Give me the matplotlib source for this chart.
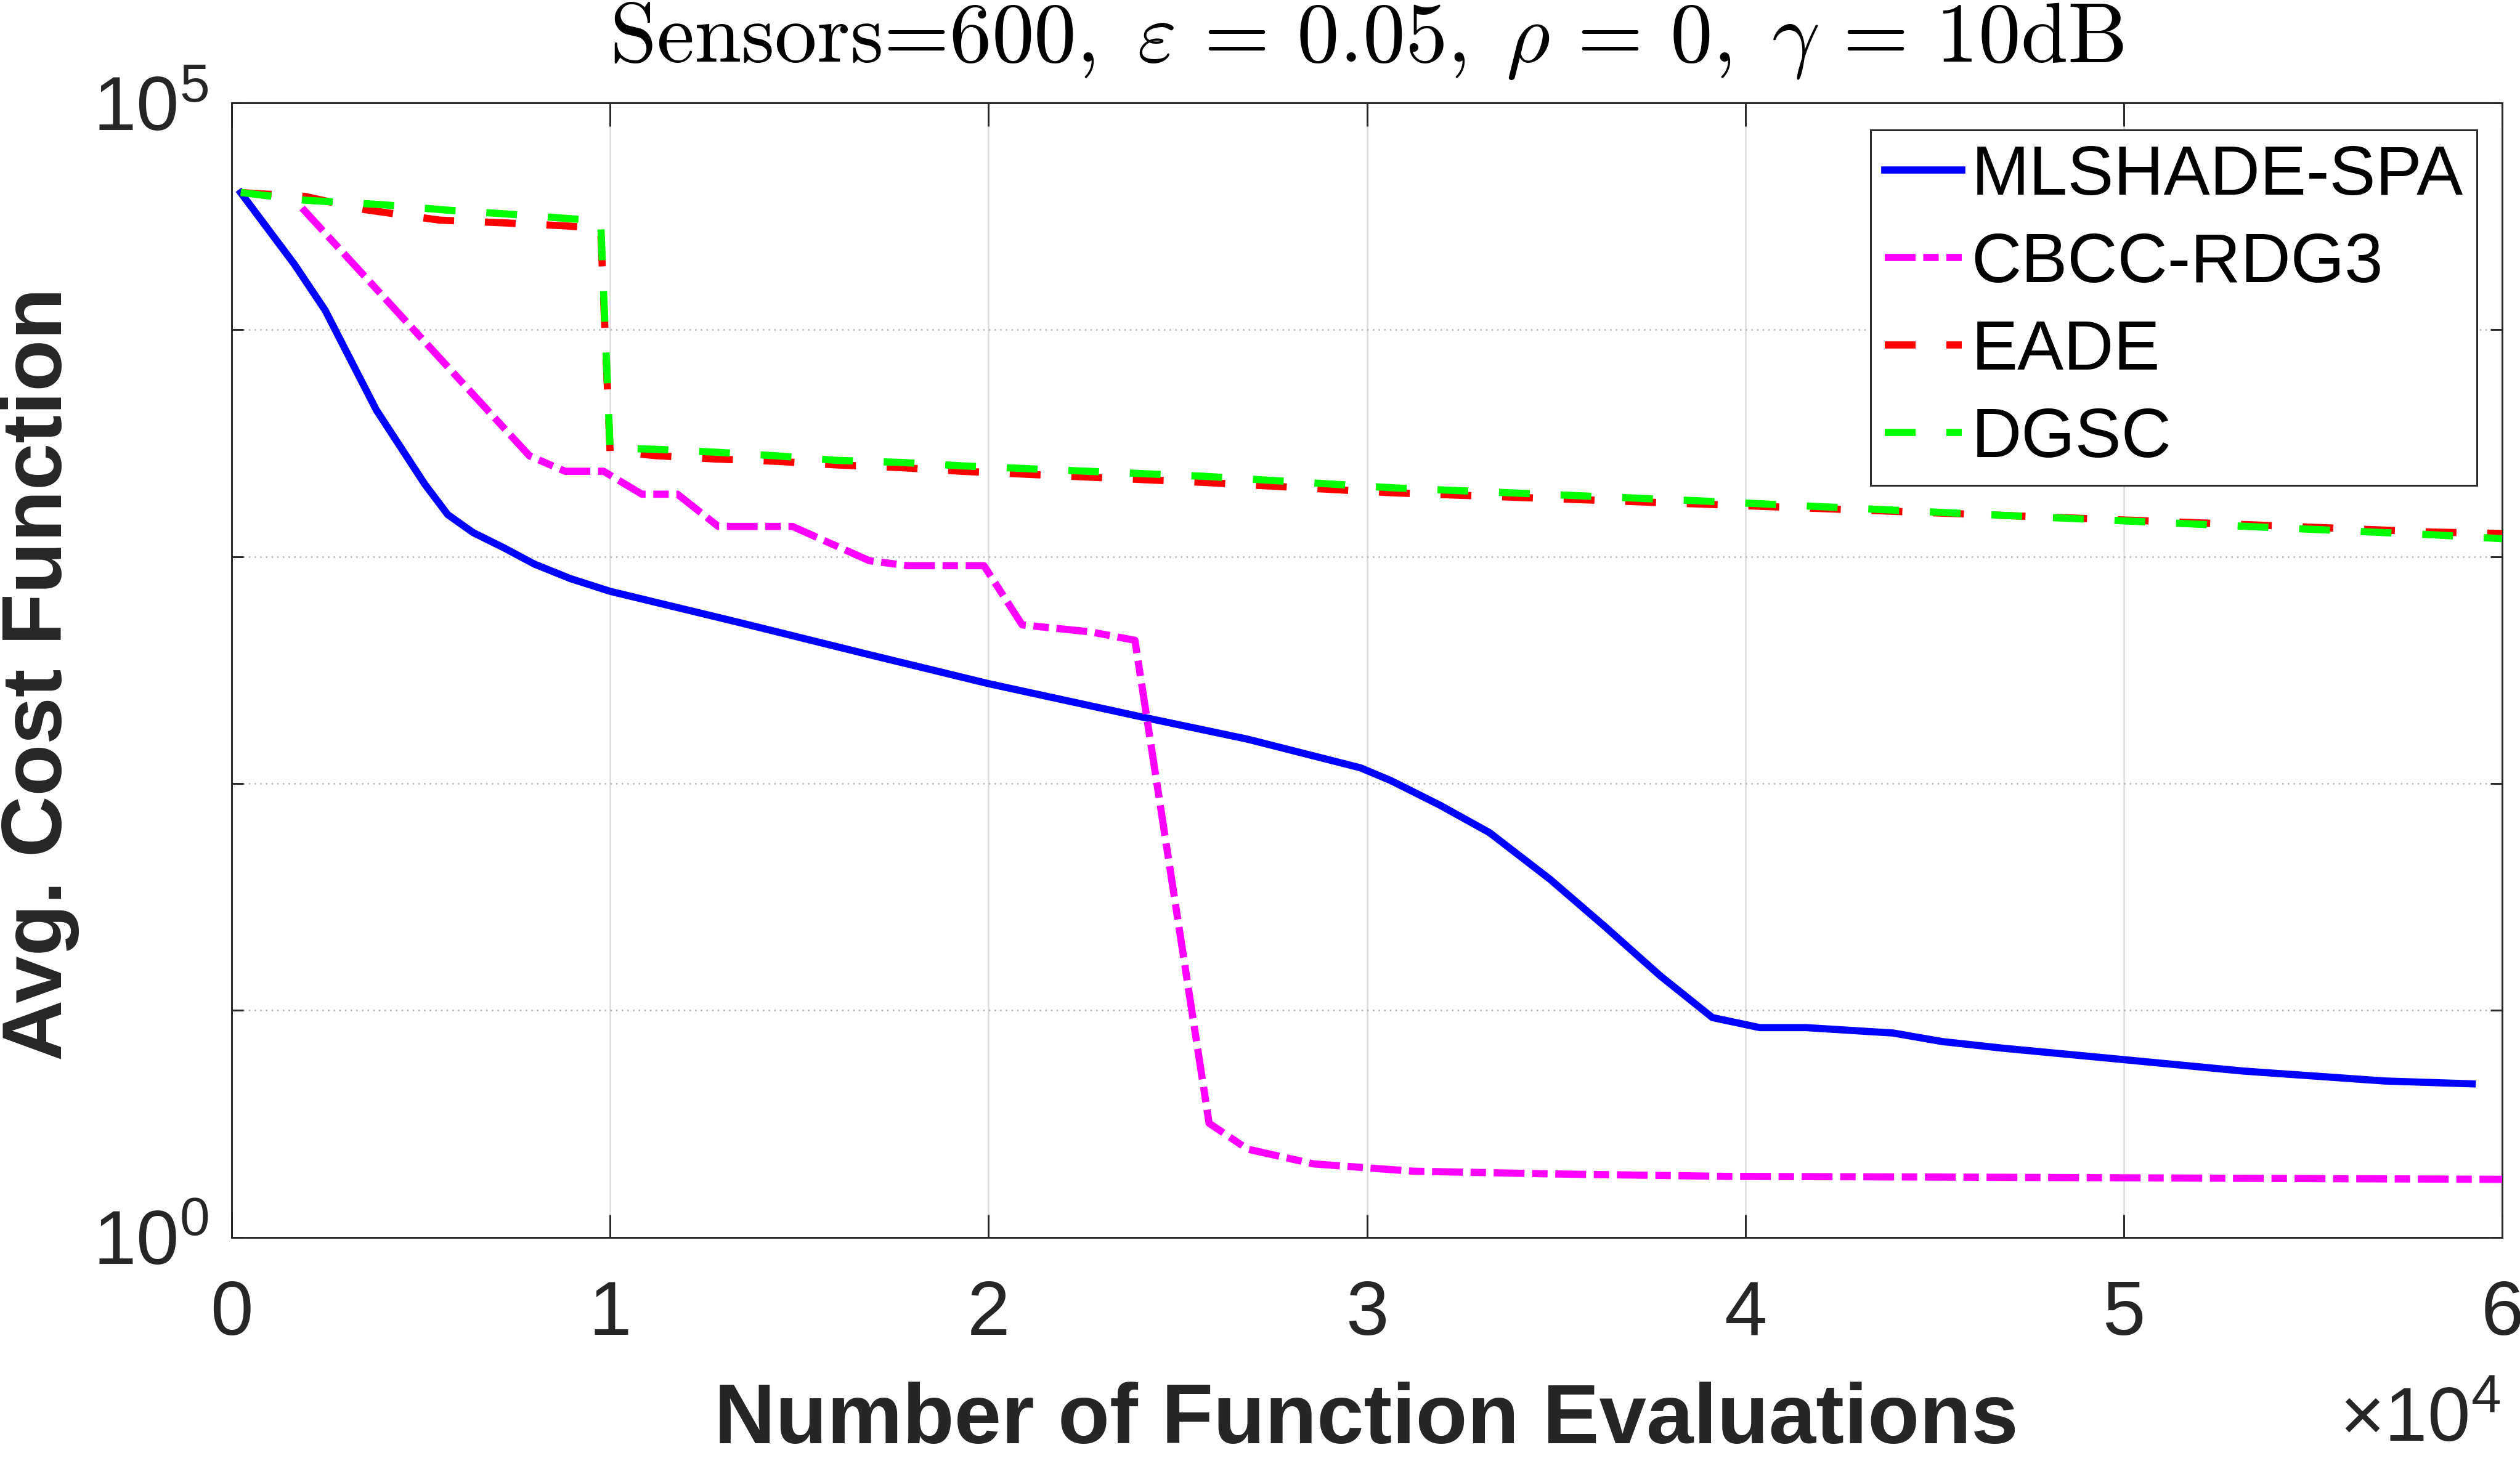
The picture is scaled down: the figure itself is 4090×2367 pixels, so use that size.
import matplotlib
matplotlib.use("Agg")
import matplotlib.pyplot as plt
from matplotlib.ticker import NullLocator

# ---------------- data (x in function evaluations, y = avg cost) ----------------
mlshade_x = [240, 1660, 2470, 3820, 5100, 5710, 6380, 7190, 8000, 8950, 10000,
             13400, 16670, 20000, 23940, 26850, 29830, 30630, 31930, 33240, 34840,
             36290, 37750, 39130, 40380, 41600, 43910, 45210, 46800, 49830, 53150,
             56900, 59210]
mlshade_y = [40200, 19400, 12190, 4436, 2089, 1531, 1276, 1094, 926.8, 799.8, 703.1,
             512.9, 375.8, 275.4, 198.2, 156.7, 117.2, 103.0, 80.2, 60.7, 37.8,
             23.4, 14.2, 9.29, 8.39, 8.39, 7.94, 7.28, 6.81, 6.10, 5.40,
             4.88, 4.74]

cbcc_x = [1860, 7870, 8810, 9830, 10840, 11780, 12860, 14820, 16850, 17860, 19880,
          20890, 22700, 23870, 25830, 26850, 28590, 31210, 34840, 39460, 45070,
          52280, 60000]
cbcc_y = [34400, 2780, 2377, 2377, 1884, 1884, 1358, 1358, 959.4, 912.0, 912.0,
          500.0, 465.6, 427.6, 3.177, 2.443, 2.104, 1.954, 1.901, 1.854, 1.841,
          1.820, 1.799]

eade_x = [240, 1930, 3500, 5500, 7200, 8800, 9750, 10000, 11200, 12800, 14400,
          16000, 17700, 19300, 25700, 30700, 38750, 46900, 53400, 58200, 60000]
eade_y = [40200, 38730, 33880, 30410, 29580, 28710, 27990, 2917, 2786, 2692, 2630,
          2535, 2466, 2377, 2123, 1910, 1706, 1517, 1380, 1282, 1265]

dgsc_x = [240, 1930, 4000, 5700, 7300, 8900, 9750, 10000, 11200, 12800, 14400,
          16000, 17700, 19300, 25700, 30700, 38750, 46900, 53400, 58200, 60000]
dgsc_y = [40270, 37240, 35560, 33650, 32360, 30900, 30200, 3006, 2972, 2884, 2780,
          2655, 2600, 2512, 2259, 2009, 1762, 1517, 1355, 1247, 1199]

series_labels = ["MLSHADE-SPA", "CBCC-RDG3", "EADE", "DGSC"]
x_tick_values = [0, 10000, 20000, 30000, 40000, 50000, 60000]
x_tick_labels = ["0", "1", "2", "3", "4", "5", "6"]
y_tick_values = [1, 10, 100, 1000, 10000, 100000]
y_tick_labels = [r"$\mathdefault{10^{0}}$", "", "", "", "", r"$\mathdefault{10^{5}}$"]

# ---------------- style ----------------
plt.rcParams["font.family"] = ["Liberation Sans", "DejaVu Sans"]
plt.rcParams["lines.scale_dashes"] = False
AX_COL = "#262626"

W, H = 4090, 2367
fig = plt.figure(figsize=(W / 300, H / 300), dpi=300)
ax = fig.add_axes([376 / W, (H - 2008.5) / H, 3685 / W, 1841.5 / H])

lw = 2.8
ax.plot(mlshade_x, mlshade_y, color=(0, 0, 1), lw=lw, ls="-", label=series_labels[0], zorder=3)
ax.plot(cbcc_x, cbcc_y, color=(1, 0, 1), lw=lw, ls=(0, (12, 3, 6, 3)), label=series_labels[1], zorder=3)
ax.plot(eade_x, eade_y, color=(1, 0, 0), lw=lw, ls=(0, (12, 12)), label=series_labels[2], zorder=3)
ax.plot(dgsc_x, dgsc_y, color=(0, 1, 0), lw=lw, ls=(0, (12, 12)), label=series_labels[3], zorder=3)

ax.set_yscale("log")
ax.set_xlim(0, 60000)
ax.set_ylim(1, 1e5)
ax.set_xticks(x_tick_values)
ax.set_xticklabels(x_tick_labels)
ax.set_yticks(y_tick_values)
ax.set_yticklabels(y_tick_labels)
ax.yaxis.set_minor_locator(NullLocator())
ax.xaxis.set_minor_locator(NullLocator())

ax.grid(True, axis="x", color="#dcdcdc", lw=0.6, ls="-", zorder=0)
ax.grid(True, axis="y", color="#b4b4b4", lw=0.6, ls=(0, (0.6, 1.6)), zorder=0)
ax.set_axisbelow(True)

for s in ax.spines.values():
    s.set_color(AX_COL)
    s.set_linewidth(0.7)

ax.tick_params(axis="both", direction="in", colors=AX_COL, width=0.7,
               labelsize=30, top=True, right=True)
ax.tick_params(axis="x", length=9, pad=16.5)
ax.tick_params(axis="y", length=4.5, pad=9)

# labels
fig.text(0.0, 1 - 1094 / H, "Avg. Cost Function", rotation=90, ha="left", va="center",
         fontsize=33, fontweight="bold", color=AX_COL)
fig.text(2217 / W, 1 - 2342.5 / H, "Number of Function Evaluations", ha="center",
         va="baseline", fontsize=33, fontweight="bold", color=AX_COL)
fig.text(4058 / W, 1 - 2340 / H, "\u00d7" + r"$\mathdefault{10^{4}}$", ha="right",
         va="baseline", fontsize=30, color=AX_COL)

ax.set_title("Sensors=600," +
             r"$\enspace\varepsilon\,=\,0.05,\;\rho\,=\,0,\;\gamma\,=\,10$dB",
             fontfamily="cmr10", math_fontfamily="cm", fontsize=33, pad=16, color="black")

leg = ax.legend(loc="upper right", bbox_to_anchor=(0.9889, 0.9761), borderaxespad=0,
                prop={"family": "Liberation Sans", "size": 27}, fancybox=False,
                framealpha=1, edgecolor=AX_COL, borderpad=0.2, labelspacing=0.32,
                handlelength=1.11, handletextpad=0.14)
leg.get_frame().set_linewidth(0.7)
for t in leg.get_texts():
    t.set_color("black")

fig.savefig("out.png", dpi=300)
